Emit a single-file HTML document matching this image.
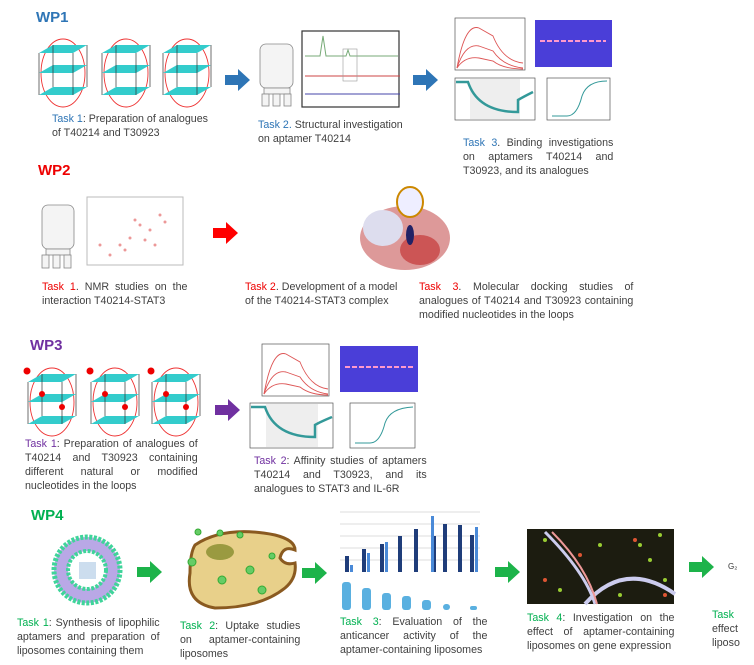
<!DOCTYPE html>
<html><head><meta charset="utf-8"><style>
body{margin:0;width:754px;height:665px;background:#fff;position:relative;overflow:hidden;font-family:"Liberation Sans",sans-serif;}
.a{position:absolute}
.t{position:absolute;font-size:11px;line-height:14px;color:#404040;transform-origin:0 0;transform:scaleX(.97);white-space:nowrap}
.t div{text-align:left}
.t .j{text-align:justify;text-align-last:justify}
.wp{position:absolute;font-size:15px;font-weight:bold}
.b{color:#2e75b6}.r{color:#e00}.p{color:#7030a0}.g{color:#00b050}
</style></head><body>
<div class="wp b" style="left:36px;top:9px">WP1</div>
<div class="wp r" style="left:38px;top:162px">WP2</div>
<div class="wp p" style="left:30px;top:337px">WP3</div>
<div class="wp g" style="left:31px;top:507px">WP4</div>

<svg class="a" style="left:0;top:0" width="754" height="665">
<defs>
<g id="cube">
<ellipse cx="26" cy="30" rx="22" ry="34" fill="none" stroke="#e33" stroke-width="0.9"/>
<path d="M2,10 l34,0 l14,-8 l-34,0z" fill="#3cc"/>
<path d="M2,30 l34,0 l14,-8 l-34,0z" fill="#3cc"/>
<path d="M2,52 l34,0 l14,-8 l-34,0z" fill="#3cc"/>
<path d="M2,10 v42 M36,10 v42 M50,2 v42 M16,2 v42" stroke="#333" stroke-width="0.7"/>
</g>
<g id="arr"><path d="M0,5 h13 v-6 l12,11 l-12,11 v-6 h-13z"/></g>
</defs>
<use href="#cube" x="37" y="43"/><use href="#cube" x="100" y="43"/><use href="#cube" x="161" y="43"/>
<use href="#cube" x="26" y="372"/><use href="#cube" x="89" y="372"/><use href="#cube" x="150" y="372"/>
<g fill="#e00"><circle cx="27" cy="371" r="3.5"/><circle cx="90" cy="371" r="3.5"/><circle cx="151" cy="371" r="3.5"/>
<circle cx="42" cy="394" r="3"/><circle cx="62" cy="407" r="3"/><circle cx="105" cy="394" r="3"/><circle cx="125" cy="407" r="3"/><circle cx="166" cy="394" r="3"/><circle cx="186" cy="407" r="3"/></g>
<use href="#arr" x="225" y="70" fill="#2e75b6"/>
<use href="#arr" x="413" y="70" fill="#2e75b6"/>
<use href="#arr" x="213" y="223" fill="#f00"/>
<use href="#arr" x="215" y="400" fill="#7030a0"/>
<use href="#arr" x="137" y="562" fill="#1db34a"/>
<use href="#arr" x="302" y="563" fill="#1db34a"/>
<use href="#arr" x="495" y="562" fill="#1db34a"/>
<use href="#arr" x="689" y="557" fill="#1db34a"/>
<g fill="#f4f4f4" stroke="#888" stroke-width="0.8">
<rect x="260" y="44" width="33" height="44" rx="6"/><rect x="264" y="88" width="26" height="6"/>
<rect x="262" y="94" width="7" height="12"/><rect x="273" y="94" width="7" height="12"/><rect x="284" y="94" width="7" height="12"/>
<rect x="42" y="205" width="32" height="44" rx="6"/><rect x="46" y="249" width="24" height="6"/>
<rect x="42" y="255" width="7" height="13"/><rect x="53" y="255" width="7" height="13"/><rect x="64" y="255" width="7" height="13"/>
</g>
<rect x="302" y="31" width="97" height="76" fill="#fff" stroke="#333" stroke-width="1.2"/>
<path d="M305,56 h15 l3,-20 l3,20 h20 l2,-6 l2,6 h48" fill="none" stroke="#7a7"/>
<path d="M305,76 h95" stroke="#c44"/><path d="M305,94 h95" stroke="#44a"/>
<rect x="343" y="49" width="14" height="32" fill="none" stroke="#999" stroke-width="0.6"/>
<rect x="87" y="197" width="96" height="68" fill="#fff" stroke="#bbb"/>
<g fill="#d44" opacity=".55"><circle cx="120" cy="245" r="1.5"/><circle cx="140" cy="225" r="1.5"/><circle cx="160" cy="215" r="1.5"/><circle cx="110" cy="255" r="1.5"/><circle cx="130" cy="238" r="1.5"/><circle cx="150" cy="230" r="1.5"/><circle cx="165" cy="222" r="1.5"/><circle cx="125" cy="250" r="1.5"/><circle cx="145" cy="240" r="1.5"/><circle cx="135" cy="220" r="1.5"/><circle cx="100" cy="245" r="1.5"/><circle cx="155" cy="245" r="1.5"/></g>
<ellipse cx="405" cy="238" rx="45" ry="32" fill="#d99"/><ellipse cx="383" cy="228" rx="20" ry="18" fill="#dde"/><ellipse cx="420" cy="250" rx="20" ry="15" fill="#c55"/><ellipse cx="410" cy="235" rx="4" ry="10" fill="#226"/>
<ellipse cx="410" cy="202" rx="13" ry="15" fill="#eef" stroke="#c80" stroke-width="2"/>
<g fill="#fff" stroke="#555" stroke-width="0.7">
<rect x="455" y="18" width="70" height="52"/><rect x="455" y="78" width="80" height="42"/><rect x="547" y="78" width="63" height="42"/>
<rect x="262" y="344" width="67" height="52"/><rect x="250" y="403" width="83" height="45"/><rect x="350" y="403" width="65" height="45"/>
</g>
<rect x="535" y="20" width="77" height="47" fill="#4a3ed8"/><rect x="340" y="346" width="78" height="46" fill="#4a3ed8"/>
<path d="M540,41 h66" stroke="#f9c" stroke-width="2" stroke-dasharray="5 2"/><path d="M345,367 h70" stroke="#f9c" stroke-width="2" stroke-dasharray="5 2"/>
<g fill="none" stroke="#d55" stroke-width="0.9"><path d="M457,68 q8,-45 22,-40 l14,8 q10,25 30,27"/><path d="M457,68 q8,-25 22,-22 l14,5 q10,15 30,17"/><path d="M457,68 q8,-12 22,-10 l14,3 q10,8 30,8"/>
<path d="M264,394 q8,-45 22,-40 l14,8 q10,25 28,27"/><path d="M264,394 q8,-25 22,-22 l14,5 q10,15 28,17"/><path d="M264,394 q8,-12 22,-10 l14,3 q10,8 28,8"/></g>
<rect x="470" y="79" width="50" height="40" fill="#eee"/><rect x="266" y="404" width="52" height="43" fill="#eee"/>
<path d="M456,82 h12 q10,30 50,30 v-12 q5,-3 15,-8" fill="none" stroke="#399" stroke-width="2.5"/>
<path d="M251,407 h14 q10,30 50,30 v-12 q5,-3 17,-8" fill="none" stroke="#399" stroke-width="2.5"/>
<path d="M552,116 h15 q10,0 15,-20 q5,-15 25,-15" fill="none" stroke="#399"/><path d="M355,443 h15 q10,0 15,-20 q5,-15 28,-16" fill="none" stroke="#399"/>
<circle cx="87" cy="570" r="33" fill="#b9a8e6" stroke="#3fd49a" stroke-width="5" stroke-dasharray="3 1.5"/>
<circle cx="87" cy="570" r="19" fill="#fff" stroke="#3fd49a" stroke-width="4" stroke-dasharray="3 1.5"/>
<rect x="79" y="562" width="17" height="17" fill="#cde"/>
<path d="M195,545 q30,-20 80,-10 q20,5 20,15 q-12,-5 -15,8 q5,8 15,5 q2,15 -10,25 q-25,20 -70,20 q-30,-5 -25,-35 q0,-20 5,-28z" fill="#e8d08a" stroke="#8a5a20" stroke-width="3"/>
<ellipse cx="220" cy="552" rx="14" ry="8" fill="#9a9a40"/>
<g fill="#6c6" stroke="#3a3"><circle cx="192" cy="562" r="4"/><circle cx="222" cy="580" r="4"/><circle cx="250" cy="570" r="4"/><circle cx="262" cy="590" r="4"/><circle cx="198" cy="532" r="3"/><circle cx="220" cy="533" r="3"/><circle cx="240" cy="535" r="3"/><circle cx="272" cy="556" r="3"/></g>
<g stroke="#ddd"><path d="M340,512h140M340,524h140M340,536h140M340,548h140M340,560h140"/></g>
<g fill="#1f3d7a"><rect x="345" y="556" width="4" height="16"/><rect x="362" y="549" width="4" height="23"/><rect x="380" y="544" width="4" height="28"/><rect x="398" y="536" width="4" height="36"/><rect x="414" y="529" width="4" height="43"/><rect x="432" y="536" width="4" height="36"/><rect x="443" y="524" width="4" height="48"/><rect x="458" y="525" width="4" height="47"/><rect x="470" y="535" width="4" height="37"/></g>
<g fill="#4a8ad8"><rect x="350" y="565" width="3" height="7"/><rect x="367" y="553" width="3" height="19"/><rect x="385" y="542" width="3" height="30"/><rect x="431" y="516" width="3" height="56"/><rect x="475" y="527" width="3" height="45"/></g>
<g fill="#5ab0e0"><rect x="342" y="582" width="9" height="28" rx="3"/><rect x="362" y="588" width="9" height="22" rx="3"/><rect x="382" y="593" width="9" height="17" rx="3"/><rect x="402" y="596" width="9" height="14" rx="3"/><rect x="422" y="600" width="9" height="10" rx="3"/><rect x="443" y="604" width="7" height="6" rx="3"/><rect x="470" y="606" width="7" height="4" rx="2"/></g>
<rect x="527" y="529" width="147" height="75" fill="#1c1c10"/>
<g fill="#9c3"><circle cx="545" cy="540" r="2"/><circle cx="600" cy="545" r="2"/><circle cx="650" cy="560" r="2"/><circle cx="560" cy="590" r="2"/><circle cx="620" cy="595" r="2"/><circle cx="660" cy="535" r="2"/><circle cx="640" cy="545" r="2"/><circle cx="665" cy="580" r="2"/></g>
<g fill="#d53"><circle cx="580" cy="555" r="2"/><circle cx="635" cy="540" r="2"/><circle cx="665" cy="595" r="2"/><circle cx="545" cy="580" r="2"/></g>
<path d="M585,604 q40,-45 90,-10" fill="none" stroke="#cce" stroke-width="4"/>
<path d="M545,532 q40,40 50,72" fill="none" stroke="#cce" stroke-width="3"/>
<path d="M552,532 q35,35 45,72" fill="none" stroke="#e99" stroke-width="2"/>
<text x="728" y="569" font-size="8" font-family="Liberation Sans" fill="#333">G₂</text>
</svg>

<div class="t" style="left:52px;top:112px"><div><span class="b">Task 1</span>: Preparation of analogues</div><div>of T40214 and T30923</div></div>
<div class="t" style="left:258px;top:118px"><div><span class="b">Task 2.</span> Structural investigation</div><div>on aptamer T40214</div></div>
<div class="t" style="left:463px;top:136px;width:155px"><div class="j"><span class="b">Task 3</span>. Binding investigations</div><div class="j">on aptamers T40214 and</div><div>T30923, and its analogues</div></div>
<div class="t" style="left:42px;top:280px;width:150px"><div class="j"><span class="r">Task 1</span>. NMR studies on the</div><div>interaction T40214-STAT3</div></div>
<div class="t" style="left:245px;top:280px"><div><span class="r">Task 2</span>. Development of a model</div><div>of the T40214-STAT3 complex</div></div>
<div class="t" style="left:419px;top:280px;width:221px"><div class="j"><span class="r">Task 3</span>. Molecular docking studies of</div><div class="j">analogues of T40214 and T30923 containing</div><div>modified nucleotides in the loops</div></div>
<div class="t" style="left:25px;top:437px;width:178px"><div class="j"><span class="p">Task 1</span>: Preparation of analogues of</div><div class="j">T40214 and T30923 containing</div><div class="j">different natural or modified</div><div>nucleotides in the loops</div></div>
<div class="t" style="left:254px;top:454px;width:178px"><div class="j"><span class="p">Task 2</span>: Affinity studies of aptamers</div><div class="j">T40214 and T30923, and its</div><div>analogues to STAT3 and IL-6R</div></div>
<div class="t" style="left:17px;top:616px;width:147px"><div class="j"><span class="g">Task 1</span>: Synthesis of lipophilic</div><div class="j">aptamers and preparation of</div><div>liposomes containing them</div></div>
<div class="t" style="left:180px;top:619px;width:124px"><div class="j"><span class="g">Task 2</span>: Uptake studies</div><div class="j">on aptamer-containing</div><div>liposomes</div></div>
<div class="t" style="left:340px;top:615px;width:152px"><div class="j"><span class="g">Task 3</span>: Evaluation of the</div><div class="j">anticancer activity of the</div><div>aptamer-containing liposomes</div></div>
<div class="t" style="left:527px;top:611px;width:152px"><div class="j"><span class="g">Task 4</span>: Investigation on the</div><div class="j">effect of aptamer-containing</div><div>liposomes on gene expression</div></div>
<div class="t" style="left:712px;top:608px"><div><span class="g">Task</span></div><div>effect</div><div>liposo</div></div>
</body></html>
